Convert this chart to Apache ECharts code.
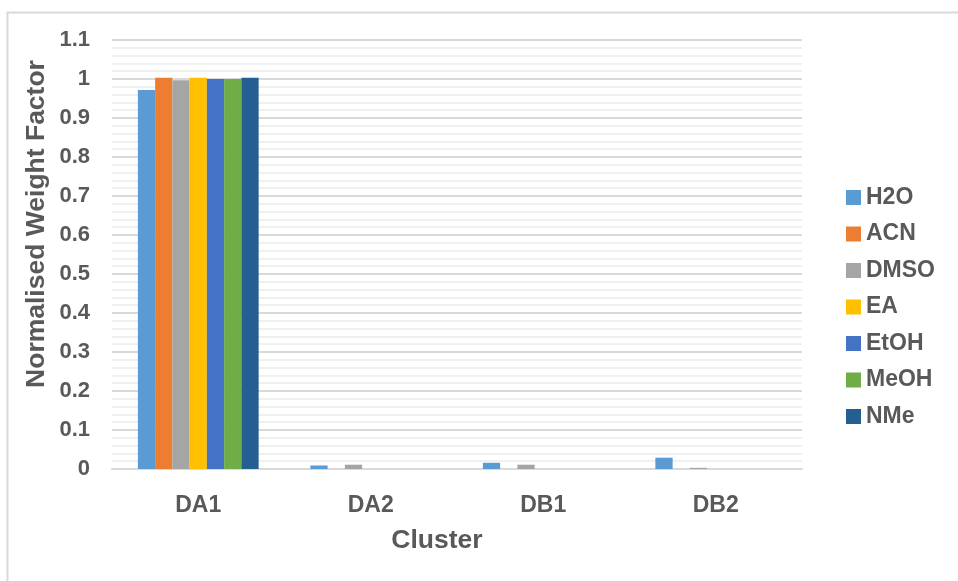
<!DOCTYPE html>
<html>
<head>
<meta charset="utf-8">
<script src="https://cdn.jsdelivr.net/npm/echarts@6/dist/echarts.min.js"></script>
<style>
  html, body { margin: 0; padding: 0; background: #fff; }
  #chart { width: 958px; height: 581px; }
</style>
</head>
<body>
<div id="chart"></div>
<script>
// Clusters on the x axis
const clusters = ['DA1', 'DA2', 'DB1', 'DB2'];

// Normalised weight factor per solvent, one value per cluster
const h2o  = [0.972, 0.009, 0.016, 0.029];
const acn  = [1.003, 0, 0, 0];
const dmso = [0.997, 0.011, 0.011, 0.003];
const ea   = [1.003, 0, 0, 0];
const etoh = [1.000, 0, 0, 0];
const meoh = [1.000, 0, 0, 0];
const nme  = [1.003, 0, 0, 0];

const solventNames = ['H2O', 'ACN', 'DMSO', 'EA', 'EtOH', 'MeOH', 'NMe'];
const solventValues = [h2o, acn, dmso, ea, etoh, meoh, nme];
const solventColors = ['#5B9BD5', '#ED7D31', '#A5A5A5', '#FFC000', '#4472C4', '#70AD47', '#255E91'];

const textColor = '#595959';
const fontFamily = '"Liberation Sans", Arial, sans-serif';

const chart = echarts.init(document.getElementById('chart'), null, { renderer: 'canvas' });

chart.setOption({
  animation: false,
  backgroundColor: '#ffffff',
  textStyle: { fontFamily: fontFamily },
  grid: { left: 112, right: 156, top: 40, bottom: 112 },
  legend: {
    orient: 'vertical',
    left: 846,
    top: 186,
    padding: 0,
    icon: 'rect',
    itemWidth: 15,
    itemHeight: 15,
    itemGap: 13.5,
    data: solventNames,
    textStyle: { color: textColor, fontSize: 23, fontWeight: 'bold', fontFamily: fontFamily }
  },
  xAxis: {
    type: 'category',
    data: clusters,
    axisLine: { show: true, lineStyle: { color: '#d9d9d9', width: 2 } },
    axisTick: { show: false },
    axisLabel: { color: textColor, fontSize: 23, fontWeight: 'bold', margin: 25 },
    splitLine: { show: false }
  },
  yAxis: {
    type: 'value',
    min: 0,
    max: 1.1,
    interval: 0.1,
    axisLine: { show: false },
    axisTick: { show: false },
    axisLabel: {
      color: textColor, fontSize: 22, fontWeight: 'bold', margin: 22,
      formatter: v => String(+v.toFixed(1))
    },
    splitLine: { show: true, lineStyle: { color: '#d9d9d9', width: 2 } },
    minorTick: { show: false, splitNumber: 5 },
    minorSplitLine: { show: true, lineStyle: { color: '#f0f0f0', width: 2 } }
  },
  series: solventNames.map((name, i) => ({
    name: name,
    type: 'bar',
    data: solventValues[i],
    itemStyle: { color: solventColors[i] },
    barGap: '0%',
    barCategoryGap: '30%'
  })),
  graphic: [
    {
      type: 'rect',
      shape: { x: 7.5, y: 12.5, width: 1000, height: 1000 },
      style: { fill: 'none', stroke: '#d9d9d9', lineWidth: 2 },
      silent: true,
      z: -10
    },
    {
      type: 'text',
      x: 37,
      y: 224,
      rotation: Math.PI / 2,
      style: {
        text: 'Normalised Weight Factor',
        fill: textColor,
        font: 'bold 26.5px ' + fontFamily,
        textAlign: 'center',
        textVerticalAlign: 'middle'
      }
    },
    {
      type: 'text',
      x: 437,
      y: 541,
      style: {
        text: 'Cluster',
        fill: textColor,
        font: 'bold 26.5px ' + fontFamily,
        textAlign: 'center',
        textVerticalAlign: 'middle'
      }
    }
  ]
});
</script>
</body>
</html>
